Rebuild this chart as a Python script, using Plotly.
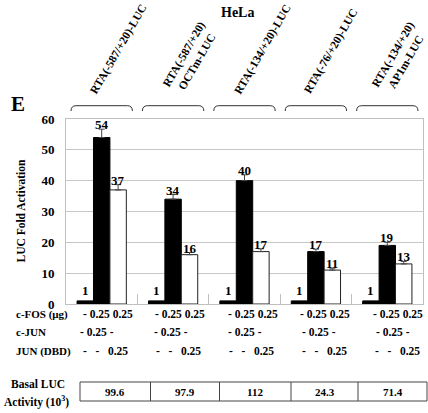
import plotly.graph_objects as go

# ---------------- data ----------------
constructs = ["RTA(-587/+20)-LUC", "RTA(-587/+20)<br>OCTm-LUC", "RTA(-134/+20)-LUC",
              "RTA(-76/+20)-LUC", "RTA(-134/+20)<br>AP1m-LUC"]
basal = [1, 1, 1, 1, 1]
fos_jun = [54, 34, 40, 17, 19]
fos_jun_err = [2.7, 1.5, 1.9, 0.8, 1.0]
fos_dbd = [37, 16, 17, 11, 13]
fos_dbd_err = [1.7, 0.7, 0.9, 0.6, 0.8]
row_labels = ["c-FOS (\u03bcg)", "c-JUN", "JUN (DBD)"]
row_values = [["-", "0.25", "0.25"], ["-", "0.25", "-"], ["-", "-", "0.25"]]
basal_luc = ["99.6", "97.9", "112", "24.3", "71.4"]
y_ticks = [0, 10, 20, 30, 40, 50, 60]

FONT = "Liberation Serif"
W, H = 428, 413
L, R, T, B = 66, 5, 119, 109
PW, PH = W - L - R, H - T - B


def px(x):
    return (x - L) / PW


def py(y):
    return (H - B - y) / PH


xs = list(range(len(constructs)))
bargap = 0.31
bw = (1 - bargap) / 3

fig = go.Figure()
fig.add_trace(go.Bar(x=xs, y=basal, marker=dict(color="black", line=dict(color="black", width=1)),
                     name="none"))
fig.add_trace(go.Bar(x=xs, y=fos_jun, marker=dict(color="black", line=dict(color="black", width=1)),
                     error_y=dict(type="data", array=fos_jun_err, visible=True, color="#444",
                                  thickness=1, width=3, symmetric=False, arrayminus=[0]*5),
                     name="c-FOS + c-JUN"))
fig.add_trace(go.Bar(x=xs, y=fos_dbd, marker=dict(color="white", line=dict(color="#222", width=1)),
                     error_y=dict(type="data", array=fos_dbd_err, visible=True, color="#444",
                                  thickness=1, width=3, symmetric=False, arrayminus=[0]*5),
                     name="c-FOS + JUN(DBD)"))

ann = []


def text(xp, yp, s, size, **kw):
    d = dict(x=px(xp), y=py(yp), xref="paper", yref="paper", text="<b>%s</b>" % s,
             showarrow=False, xanchor="center", yanchor="middle",
             font=dict(family=FONT, size=size, color="black"))
    d.update(kw)
    ann.append(d)


lab_font = dict(family=FONT, size=13, color="black")
# value labels
for i in xs:
    ann.append(dict(x=i - bw, y=basal[i], xref="x", yref="y", text="<b>%d</b>" % basal[i],
                    showarrow=False, xanchor="center", yanchor="bottom", yshift=1, font=lab_font))
    ann.append(dict(x=i, y=fos_jun[i] + fos_jun_err[i], xref="x", yref="y",
                    text="<b>%d</b>" % fos_jun[i], showarrow=False, xanchor="center",
                    yanchor="bottom", yshift=-5, font=lab_font))
    ann.append(dict(x=i + bw, y=fos_dbd[i] + fos_dbd_err[i], xref="x", yref="y",
                    text="<b>%d</b>" % fos_dbd[i], showarrow=False, xanchor="center",
                    yanchor="bottom", yshift=-5, font=lab_font))

# rotated construct labels
rot_font = dict(family=FONT, size=11.5, color="black")
rot_shift = [-17, -15, -15.5, -17, -20]
for i, c in enumerate(constructs):
    ann.append(dict(x=i, y=py(99), xref="x", yref="paper", text="<b>%s</b>" % c,
                    showarrow=False, textangle=-60, xanchor="left", yanchor="bottom",
                    xshift=rot_shift[i], font=rot_font, align="center"))

# brackets
shapes = []
for i in xs:
    x0, x1 = i - 0.43, i + 0.43
    y0, y1 = py(105.7), py(111)
    r = 0.07
    path = (f"M {x0},{y1} Q {x0},{y0} {x0 + r},{y0} L {x1 - r},{y0} "
            f"Q {x1},{y0} {x1},{y1}")
    shapes.append(dict(type="path", path=path, xref="x", yref="paper",
                       line=dict(color="#333", width=1)))

# title / panel letter / axis title
text(237, 12.5, "HeLa", 14)
text(18, 104, "E", 21)
text(20, 211.5, "LUC Fold Activation", 11.5, textangle=-90)

# treatment rows
row_y = [314, 332, 351]
row_x0 = [108, 97, 105]
row_dx = [72.4, 74, 73]
seps = [[" ", " "], [" ", " "], ["\u00a0\u00a0\u00a0", "\u00a0\u00a0\u00a0"]]
for r_i, (lab, vals) in enumerate(zip(row_labels, row_values)):
    text(14, row_y[r_i], lab, 11, xanchor="left")
    s = vals[0] + seps[r_i][0] + vals[1] + seps[r_i][1] + vals[2]
    for g in xs:
        text(row_x0[r_i] + row_dx[r_i] * g, row_y[r_i], s, 11.5)

# basal LUC table
edges = [80, 150.5, 219.5, 291, 358, 427]
ty0, ty1 = 382, 401
shapes.append(dict(type="rect", xref="paper", yref="paper", x0=px(edges[0]), x1=px(edges[-1]),
                   y0=py(ty1), y1=py(ty0), line=dict(color="#444", width=1)))
for e in edges[1:-1]:
    shapes.append(dict(type="line", xref="paper", yref="paper", x0=px(e), x1=px(e),
                       y0=py(ty1), y1=py(ty0), line=dict(color="#444", width=1)))
for g, v in enumerate(basal_luc):
    text((edges[g] + edges[g + 1]) / 2, (ty0 + ty1) / 2, v, 11)
text(38, 384, "Basal LUC", 11.5)
text(36, 401, "Activity (10<sup>3</sup>)", 11.5)

fig.update_layout(
    width=W, height=H, margin=dict(l=L, r=R, t=T, b=B, pad=0),
    paper_bgcolor="white", plot_bgcolor="white", showlegend=False,
    barmode="group", bargap=bargap, bargroupgap=0,
    annotations=ann, shapes=shapes,
    xaxis=dict(range=[-0.5, 4.5], showgrid=False, zeroline=False, showline=True, mirror=True,
               linecolor="#c0c0c0", linewidth=1, tickvals=[0.5, 1.5, 2.5, 3.5], ticks="inside",
               ticklen=10, tickcolor="#c0c0c0", showticklabels=False),
    yaxis=dict(range=[0, 60], tickvals=y_ticks, showgrid=True, gridcolor="#c8c8c8", gridwidth=1,
               zeroline=False, showline=True, mirror=True, linecolor="#c0c0c0", linewidth=1,
               ticks="", ticklabelstandoff=8,
               tickfont=dict(family=FONT, size=13, color="black", weight="bold")),
)

fig.write_html("out.html", config={"displayModeBar": False},
               post_script="document.body.style.margin='0';document.body.style.padding='0';")
